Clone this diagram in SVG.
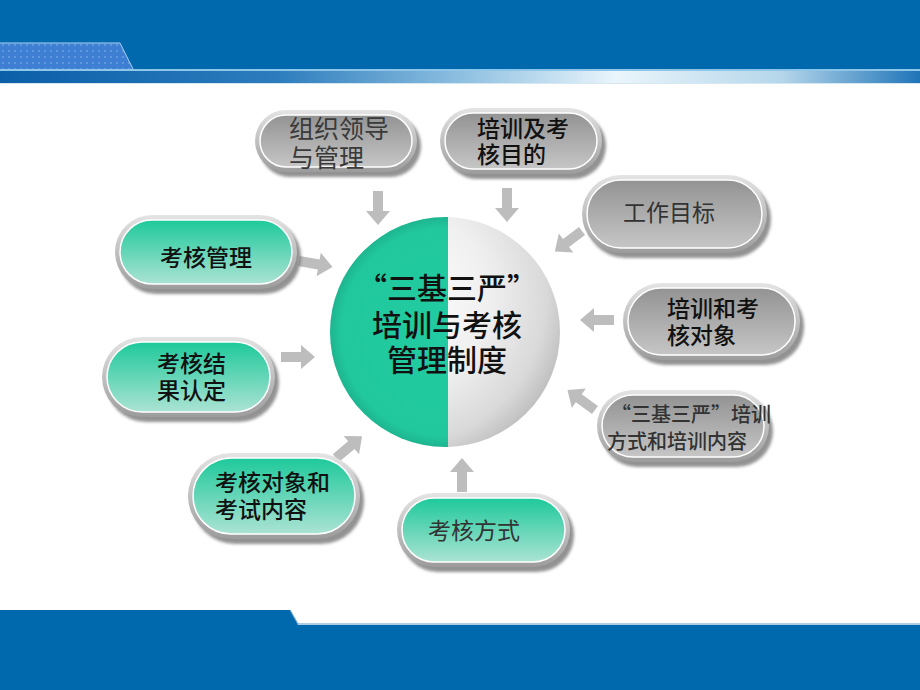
<svg xmlns="http://www.w3.org/2000/svg" width="920" height="690" viewBox="0 0 920 690">
<defs>
<style>
.t{font-family:"Noto Sans CJK SC","Noto Sans",sans-serif;fill:#111;font-weight:500;}
.ring{fill:url(#ringG);}
.gb{fill:url(#grayB);stroke:#fff;stroke-width:1.5;}
.gr{fill:url(#greenB);stroke:#fff;stroke-width:1.5;}
.sh{fill:#6e6e6e;opacity:.75;filter:url(#blur);}
.arr{fill:#bdbdbd;}
</style>
<filter id="blur" x="-10%" y="-20%" width="120%" height="140%"><feGaussianBlur stdDeviation="1.6"/></filter>
<linearGradient id="ringG" x1="0" y1="0" x2="0" y2="1"><stop offset="0" stop-color="#e4e4e4"/><stop offset="1" stop-color="#9c9c9c"/></linearGradient>
<linearGradient id="grayB" x1="0" y1="0" x2="0" y2="1"><stop offset="0" stop-color="#939393"/><stop offset="1" stop-color="#c6c6c6"/></linearGradient>
<linearGradient id="greenB" x1="0" y1="0" x2="0" y2="1"><stop offset="0" stop-color="#1ec99b"/><stop offset="1" stop-color="#abe3d3"/></linearGradient>
<linearGradient id="band" x1="0" y1="0" x2="1" y2="0"><stop offset="0" stop-color="#0b5fa8"/><stop offset=".3" stop-color="#2c7cbd"/><stop offset=".5" stop-color="#8dbfe0"/><stop offset=".67" stop-color="#eaf5fb"/><stop offset=".85" stop-color="#b5d6ea"/><stop offset="1" stop-color="#1f74b8"/></linearGradient>
<pattern id="dots" width="6" height="6" patternUnits="userSpaceOnUse"><rect width="6" height="6" fill="#3f7fd3"/><circle cx="3" cy="3" r=".9" fill="#6fa3e6"/></pattern>
<radialGradient id="sphR" cx=".3" cy=".35" r=".8"><stop offset="0" stop-color="#ffffff"/><stop offset=".5" stop-color="#efefef"/><stop offset=".8" stop-color="#d9d9d9"/><stop offset="1" stop-color="#b4b4b4"/></radialGradient>
<radialGradient id="sphL" cx=".5" cy=".5" r=".5"><stop offset="0" stop-color="#22cba1"/><stop offset=".9" stop-color="#21c89e"/><stop offset="1" stop-color="#1db58f"/></radialGradient>
<clipPath id="leftH"><rect x="300" y="200" width="148" height="270"/></clipPath>
<clipPath id="rightH"><rect x="448" y="200" width="150" height="270"/></clipPath>
<path id="arr" d="M0,-5 H20 V-12 L34,0 L20,12 V5 H0 Z"/>
</defs>

<g id="header">
<rect x="0" y="0" width="920" height="70" fill="#0068ac"/>
<polygon points="0,43 120,43 133,69 0,69" fill="url(#dots)"/>
<polyline points="0,43 120,43 133,69" fill="none" stroke="#a9d2f2" stroke-width="1"/>
<rect x="0" y="69" width="920" height="2" fill="#8ec6ea"/>
<rect x="0" y="71" width="920" height="12" fill="url(#band)"/>
<rect x="0" y="83" width="920" height="1" fill="#d6e7f2"/>
</g>
<g id="footer">
<polygon points="0,610 290,610 298,625 920,625 920,690 0,690" fill="#0068ac"/>
<polyline points="290,610 298,624 920,624" fill="none" stroke="#5a9bd0" stroke-width="1"/>
</g>

<g id="connectors">
<use href="#arr" class="arr" transform="translate(378,191) rotate(90)"/>
<use href="#arr" class="arr" transform="translate(507,188) rotate(90)"/>
<use href="#arr" class="arr" transform="translate(582,231) rotate(143)"/>
<use href="#arr" class="arr" transform="translate(614,320) rotate(180)"/>
<use href="#arr" class="arr" transform="translate(595,410) rotate(216)"/>
<use href="#arr" class="arr" transform="translate(299,261) rotate(10)"/>
<use href="#arr" class="arr" transform="translate(281,357) rotate(0)"/>
<use href="#arr" class="arr" transform="translate(336,458) rotate(-40)"/>
<use href="#arr" class="arr" transform="translate(462,492) rotate(-90)"/>
</g>

<g id="center">
<circle cx="445" cy="332" r="115" fill="url(#sphL)" clip-path="url(#leftH)"/>
<circle cx="445" cy="332" r="115" fill="url(#sphR)" clip-path="url(#rightH)"/>
<text class="t" x="447" y="299" font-size="30" text-anchor="middle">“三基三严”</text>
<text class="t" x="447" y="336" font-size="30" text-anchor="middle">培训与考核</text>
<text class="t" x="447" y="371" font-size="30" text-anchor="middle">管理制度</text>
</g>

<g id="n1">
<rect class="sh" x="259" y="115" width="162" height="62" rx="31"/>
<rect class="ring" x="255" y="110" width="162" height="62" rx="31"/>
<rect class="gb" x="260" y="115" width="152" height="52" rx="26"/>
<text class="t" x="289" y="138" font-size="25" style="fill:#3a3a3a;font-weight:400">组织领导</text>
<text class="t" x="289" y="167" font-size="25" style="fill:#3a3a3a;font-weight:400">与管理</text>
</g>
<g id="n2">
<rect class="sh" x="444" y="113" width="162" height="66" rx="33"/>
<rect class="ring" x="440" y="108" width="162" height="66" rx="33"/>
<rect class="gb" x="445" y="113" width="152" height="56" rx="28"/>
<text class="t" x="477" y="137" font-size="23">培训及考</text>
<text class="t" x="477" y="163" font-size="23">核目的</text>
</g>
<g id="n3">
<rect class="sh" x="586" y="180" width="185" height="78" rx="39"/>
<rect class="ring" x="582" y="175" width="185" height="78" rx="39"/>
<rect class="gb" x="587" y="180" width="175" height="68" rx="34"/>
<text class="t" x="669" y="221" font-size="23" text-anchor="middle" style="fill:#333;font-weight:400">工作目标</text>
</g>
<g id="n4">
<rect class="sh" x="627" y="288" width="177" height="77" rx="38"/>
<rect class="ring" x="623" y="283" width="177" height="77" rx="38"/>
<rect class="gb" x="628" y="288" width="167" height="67" rx="33"/>
<text class="t" x="667" y="317" font-size="23">培训和考</text>
<text class="t" x="667" y="344" font-size="23">核对象</text>
</g>
<g id="n5">
<rect class="sh" x="601" y="395" width="172" height="72" rx="36"/>
<rect class="ring" x="597" y="390" width="172" height="72" rx="36"/>
<rect class="gb" x="602" y="395" width="162" height="62" rx="31"/>
<text class="t" x="611" y="422" font-size="20" style="fill:#333">“三基三严”培训</text>
<text class="t" x="607" y="449" font-size="20" style="fill:#333">方式和培训内容</text>
</g>
<g id="n6">
<rect class="sh" x="119" y="220" width="182" height="74" rx="37"/>
<rect class="ring" x="115" y="215" width="182" height="74" rx="37"/>
<rect class="gr" x="120" y="220" width="172" height="64" rx="32"/>
<text class="t" x="206" y="266" font-size="23" text-anchor="middle">考核管理</text>
</g>
<g id="n7">
<rect class="sh" x="106" y="342" width="173" height="80" rx="40"/>
<rect class="ring" x="102" y="337" width="173" height="80" rx="40"/>
<rect class="gr" x="107" y="342" width="163" height="70" rx="35"/>
<text class="t" x="157" y="372" font-size="23">考核结</text>
<text class="t" x="157" y="399" font-size="23">果认定</text>
</g>
<g id="n8">
<rect class="sh" x="192" y="458" width="172" height="86" rx="43"/>
<rect class="ring" x="188" y="453" width="172" height="86" rx="43"/>
<rect class="gr" x="193" y="458" width="162" height="76" rx="38"/>
<text class="t" x="215" y="491" font-size="23">考核对象和</text>
<text class="t" x="215" y="518" font-size="23">考试内容</text>
</g>
<g id="n9">
<rect class="sh" x="401" y="498" width="173" height="74" rx="37"/>
<rect class="ring" x="397" y="493" width="173" height="74" rx="37"/>
<rect class="gr" x="402" y="498" width="163" height="64" rx="32"/>
<text class="t" x="474" y="539" font-size="23" text-anchor="middle" style="fill:#333;font-weight:400">考核方式</text>
</g>
</svg>
